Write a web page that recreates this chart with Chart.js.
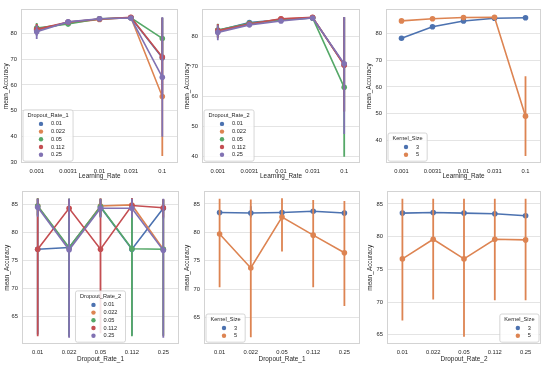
<!DOCTYPE html>
<html>
<head>
<meta charset="utf-8">
<script src="https://cdn.jsdelivr.net/npm/chart.js@4.4.1/dist/chart.umd.min.js"></script>
<style>
  html, body { margin: 0; padding: 0; background: #fff; }
  #wrap { position: relative; width: 550px; height: 369px; overflow: hidden; background: #fff; }
  #wrap canvas { position: absolute; }
</style>
</head>
<body>
<div id="wrap">
  <canvas id="p1"></canvas>
  <canvas id="p2"></canvas>
  <canvas id="p3"></canvas>
  <canvas id="p4"></canvas>
  <canvas id="p5"></canvas>
  <canvas id="p6"></canvas>
</div>
<script>
// MARK: Data
const learningRates = ['0.001', '0.0031', '0.01', '0.031', '0.1'];
const dropoutRates = ['0.01', '0.022', '0.05', '0.112', '0.25'];
const kernelSizes = ['3', '5'];

// panel 1: Learning_Rate, hue Dropout_Rate_1
const lrD1Mean = [
  [81.2, 84.2, 85.5, 86.0, 70.5],
  [81.6, 84.0, 85.3, 86.1, 55.5],
  [82.0, 83.6, 85.6, 86.0, 78.0],
  [81.5, 84.3, 85.5, 86.2, 70.8],
  [80.6, 84.4, 85.6, 85.9, 63.0]
];
const lrD1Low = [
  [79.0, 83.4, 85.0, 85.6, 55.0],
  [79.5, 83.2, 84.9, 85.8, 32.5],
  [80.0, 82.6, 85.2, 85.6, 70.0],
  [79.5, 83.5, 85.1, 85.8, 55.0],
  [77.8, 83.6, 85.2, 85.5, 40.0]
];
const lrD1High = [
  [83.5, 85.0, 85.9, 86.4, 86.0],
  [83.7, 84.8, 85.7, 86.4, 78.0],
  [84.0, 84.5, 86.0, 86.4, 86.0],
  [83.6, 85.0, 85.9, 86.5, 86.0],
  [83.0, 85.1, 86.0, 86.3, 86.2]
];

// panel 2: Learning_Rate, hue Dropout_Rate_2
const lrD2Mean = [
  [81.8, 84.5, 85.4, 86.0, 70.5],
  [81.5, 84.0, 85.6, 86.1, 70.5],
  [82.0, 84.2, 85.4, 86.0, 63.0],
  [81.8, 84.0, 85.7, 86.2, 70.3],
  [81.2, 83.7, 85.0, 86.0, 70.8]
];
const lrD2Low = [
  [79.5, 83.8, 85.0, 85.7, 55.0],
  [79.3, 83.3, 85.2, 85.8, 55.0],
  [79.8, 83.5, 85.0, 85.7, 40.0],
  [79.5, 83.3, 85.3, 85.9, 55.0],
  [78.6, 83.0, 84.5, 85.6, 47.5]
];
const lrD2High = [
  [84.0, 85.1, 85.8, 86.3, 86.2],
  [83.8, 84.7, 86.0, 86.4, 86.2],
  [84.1, 84.9, 85.8, 86.3, 86.2],
  [84.0, 84.7, 86.1, 86.5, 86.2],
  [83.6, 84.4, 85.5, 86.3, 86.3]
];

// panel 3: Learning_Rate, hue Kernel_Size
const lrKMean = [
  [78.3, 82.6, 84.8, 85.8, 86.0],
  [84.8, 85.6, 86.1, 86.2, 49.0]
];
const lrKLow = [
  [77.9, 82.2, 84.5, 85.5, 85.7],
  [84.5, 85.3, 85.8, 85.9, 34.0]
];
const lrKHigh = [
  [78.7, 83.0, 85.1, 86.1, 86.3],
  [85.1, 85.9, 86.4, 86.5, 64.0]
];

// panel 4: Dropout_Rate_1, hue Dropout_Rate_2
const d1D2Mean = [
  [77.0, 77.3, 84.5, 77.0, 84.3],
  [84.7, 77.2, 84.7, 84.9, 77.0],
  [84.7, 77.3, 84.6, 77.1, 77.0],
  [77.0, 84.3, 77.0, 84.8, 84.4],
  [84.5, 76.9, 84.3, 84.3, 76.8]
];
const d1D2Low = [
  [61.8, 61.5, 82.8, 61.6, 82.5],
  [83.0, 61.4, 83.0, 83.2, 61.5],
  [83.0, 61.5, 82.8, 61.5, 61.6],
  [61.5, 82.6, 62.0, 83.2, 82.7],
  [82.8, 61.2, 82.6, 82.6, 61.2]
];
const d1D2High = [
  [86.0, 86.0, 85.9, 86.0, 85.8],
  [86.1, 86.0, 86.1, 86.1, 85.9],
  [86.1, 86.0, 86.0, 86.0, 85.9],
  [86.0, 85.9, 86.0, 86.1, 85.9],
  [86.0, 86.0, 86.0, 86.0, 86.0]
];

// panel 5: Dropout_Rate_1, hue Kernel_Size
const d1KMean = [
  [83.5, 83.4, 83.5, 83.7, 83.4],
  [79.7, 73.7, 82.7, 79.5, 76.4]
];
const d1KLow = [
  [83.2, 82.6, 83.1, 83.3, 83.0],
  [70.3, 61.5, 76.6, 70.3, 67.0]
];
const d1KHigh = [
  [83.8, 84.6, 83.9, 84.1, 83.8],
  [85.9, 85.8, 86.0, 85.7, 85.5]
];

// panel 6: Dropout_Rate_2, hue Kernel_Size
const d2KMean = [
  [83.6, 83.7, 83.6, 83.5, 83.2],
  [76.6, 79.6, 76.6, 79.6, 79.5]
];
const d2KLow = [
  [83.4, 83.5, 83.4, 83.3, 83.0],
  [67.2, 70.4, 64.7, 70.3, 70.3]
];
const d2KHigh = [
  [83.8, 83.9, 83.8, 83.7, 83.4],
  [85.8, 85.8, 85.8, 85.8, 85.8]
];

// tick labels
const yTicks1 = [30, 40, 50, 60, 70, 80];
const yTicks2 = [40, 50, 60, 70, 80];
const yTicks3 = [40, 50, 60, 70, 80];
const yTicksLow = [65, 70, 75, 80, 85];

// MARK: Style
const colors = ['#4C72B0', '#DD8452', '#55A868', '#C44E52', '#8172B3'];
const FAMILY = "'Liberation Sans', Arial, sans-serif";
const TICK_FONT = { family: FAMILY, size: 5.8 };
const LABEL_FONT = { family: FAMILY, size: 6.4 };
const LEGEND_SIZE = 5.6;
const TEXT = '#262626';
const AX = 24;   // y axis box width
const XH = 22;   // x axis box height
const PT = 4;
const PR = 2;

Chart.defaults.font.family = FAMILY;

// frame, plus errorbars drawn with each dataset under its own line and points
const errorBars = {
  id: 'errorBars',
  beforeDatasetsDraw(chart) {
    const { ctx, chartArea: a } = chart;
    ctx.save();
    ctx.strokeStyle = '#d3d3d3';
    ctx.lineWidth = 1;
    ctx.strokeRect(Math.round(a.left) + 0.5, Math.round(a.top) + 0.5,
      Math.round(a.right - a.left) - 1, Math.round(a.bottom - a.top) - 1);
    ctx.restore();
  },
  beforeDatasetDraw(chart, args) {
    const ds = chart.data.datasets[args.index];
    const y = chart.scales.y;
    const ctx = chart.ctx;
    ctx.save();
    ctx.strokeStyle = ds.borderColor;
    ctx.lineWidth = 1.8;
    ctx.beginPath();
    args.meta.data.forEach((pt, i) => {
      ctx.moveTo(pt.x, y.getPixelForValue(ds.low[i]));
      ctx.lineTo(pt.x, y.getPixelForValue(ds.high[i]));
    });
    ctx.stroke();
    ctx.restore();
  }
};

// seaborn style legend box inside the axes
const boxLegend = {
  id: 'boxLegend',
  afterDraw(chart, args, opts) {
    const { ctx, chartArea: a } = chart;
    const items = chart.data.datasets;
    ctx.save();
    ctx.font = LEGEND_SIZE + 'px ' + FAMILY;
    const tw = ctx.measureText(opts.title).width;
    let lw = 0;
    items.forEach(d => { lw = Math.max(lw, ctx.measureText(d.label).width); });
    const w = Math.max(tw + 9, 28 + lw + 3);
    const rowH = 7.7;
    const h = 14 + rowH * (items.length - 1) + 6.5;
    let x;
    if (opts.loc === 'left') x = a.left + 2;
    else if (opts.loc === 'right') x = a.right - 2 - w;
    else x = (a.left + a.right) / 2 - w / 2;
    const y = a.bottom - 1.8 - h;
    ctx.fillStyle = 'rgba(255,255,255,0.85)';
    ctx.strokeStyle = '#cccccc';
    ctx.lineWidth = 0.8;
    ctx.beginPath();
    ctx.roundRect(x, y, w, h, 2);
    ctx.fill();
    ctx.stroke();
    ctx.fillStyle = TEXT;
    ctx.textBaseline = 'middle';
    ctx.textAlign = 'center';
    ctx.fillText(opts.title, x + w / 2, y + 5.3);
    ctx.textAlign = 'left';
    items.forEach((d, i) => {
      const cy = y + 14 + rowH * i;
      ctx.fillStyle = d.borderColor;
      ctx.beginPath();
      ctx.arc(x + 18, cy, 2.2, 0, Math.PI * 2);
      ctx.fill();
      ctx.fillStyle = TEXT;
      ctx.fillText(d.label, x + 28, cy);
    });
    ctx.restore();
  }
};

// MARK: Panels
function makePanel(id, geom, labels, hues, means, lows, highs, yRange, yTicks, xTitle, legendTitle, legendLoc) {
  const canvas = document.getElementById(id);
  const w = geom.right - geom.left;
  const h = geom.bottom - geom.top;
  canvas.width = Math.round(AX + w + PR);
  canvas.height = Math.round(PT + h + XH);
  canvas.style.left = (geom.left - AX) + 'px';
  canvas.style.top = (geom.top - PT) + 'px';

  return new Chart(canvas, {
    type: 'line',
    data: {
      labels,
      datasets: hues.map((hue, i) => ({
        label: hue,
        data: means[i],
        low: lows[i],
        high: highs[i],
        borderColor: colors[i],
        backgroundColor: colors[i],
        pointBackgroundColor: colors[i],
        pointBorderColor: colors[i],
        borderWidth: 1.6,
        pointRadius: 2.8,
        pointBorderWidth: 0,
        tension: 0,
        order: -i
      }))
    },
    options: {
      responsive: false,
      animation: false,
      devicePixelRatio: 1,
      layout: { padding: { top: PT, right: PR, left: 0, bottom: 0 } },
      events: [],
      plugins: {
        legend: { display: false },
        tooltip: { enabled: false },
        boxLegend: { title: legendTitle, loc: legendLoc }
      },
      scales: {
        x: {
          type: 'category',
          offset: true,
          grid: { display: false, drawTicks: false },
          border: { display: false },
          ticks: { font: TICK_FONT, color: TEXT, padding: 5, maxRotation: 0, autoSkip: false },
          title: { display: true, text: xTitle, font: LABEL_FONT, color: TEXT, padding: { top: 0, bottom: geom.xTitlePad } },
          afterFit: s => { s.height = XH; }
        },
        y: {
          min: yRange[0],
          max: yRange[1],
          grid: { color: '#e4e4e4', lineWidth: 1, drawTicks: false },
          border: { display: false },
          ticks: { font: TICK_FONT, color: TEXT, padding: 4 },
          afterBuildTicks: s => { s.ticks = yTicks.map(v => ({ value: v })); },
          title: { display: true, text: 'mean_Accuracy', font: LABEL_FONT, color: TEXT, padding: { top: AX - geom.yTitleOff - 3.8, bottom: 0 } },
          afterFit: s => { s.width = AX; }
        }
      }
    },
    plugins: [errorBars, boxLegend]
  });
}

const top1 = 6, bot1 = 163, top2 = 187.7, bot2 = 343.5;
const g1 = { left: 21, right: 180, top: top1, bottom: bot1, xTitlePad: 4.5, yTitleOff: 15 };
const g2 = { left: 202, right: 361.7, top: top1, bottom: bot1, xTitlePad: 4.5, yTitleOff: 15 };
const g3 = { left: 386.3, right: 543, top: top1, bottom: bot1, xTitlePad: 4.5, yTitleOff: 17 };
const g4 = { left: 21.5, right: 180, top: top2, bottom: bot2, xTitlePad: 2.7, yTitleOff: 15 };
const g5 = { left: 204.2, right: 361.8, top: top2, bottom: bot2, xTitlePad: 2.7, yTitleOff: 17 };
const g6 = { left: 386.5, right: 542.5, top: top2, bottom: bot2, xTitlePad: 2.7, yTitleOff: 17 };

makePanel('p1', g1, learningRates, dropoutRates, lrD1Mean, lrD1Low, lrD1High, [29.8, 89.2], yTicks1, 'Learning_Rate', 'Dropout_Rate_1', 'left');
makePanel('p2', g2, learningRates, dropoutRates, lrD2Mean, lrD2Low, lrD2High, [37.9, 88.8], yTicks2, 'Learning_Rate', 'Dropout_Rate_2', 'left');
makePanel('p3', g3, learningRates, kernelSizes, lrKMean, lrKLow, lrKHigh, [31.4, 89.1], yTicks3, 'Learning_Rate', 'Kernel_Size', 'left');
makePanel('p4', g4, dropoutRates, dropoutRates, d1D2Mean, d1D2Low, d1D2High, [60.1, 87.3], yTicksLow, 'Dropout_Rate_1', 'Dropout_Rate_2', 'center');
makePanel('p5', g5, dropoutRates, kernelSizes, d1KMean, d1KLow, d1KHigh, [60.3, 87.2], yTicksLow, 'Dropout_Rate_1', 'Kernel_Size', 'left');
makePanel('p6', g6, dropoutRates, kernelSizes, d2KMean, d2KLow, d2KHigh, [63.6, 86.9], yTicksLow, 'Dropout_Rate_2', 'Kernel_Size', 'right');
</script>
</body>
</html>
